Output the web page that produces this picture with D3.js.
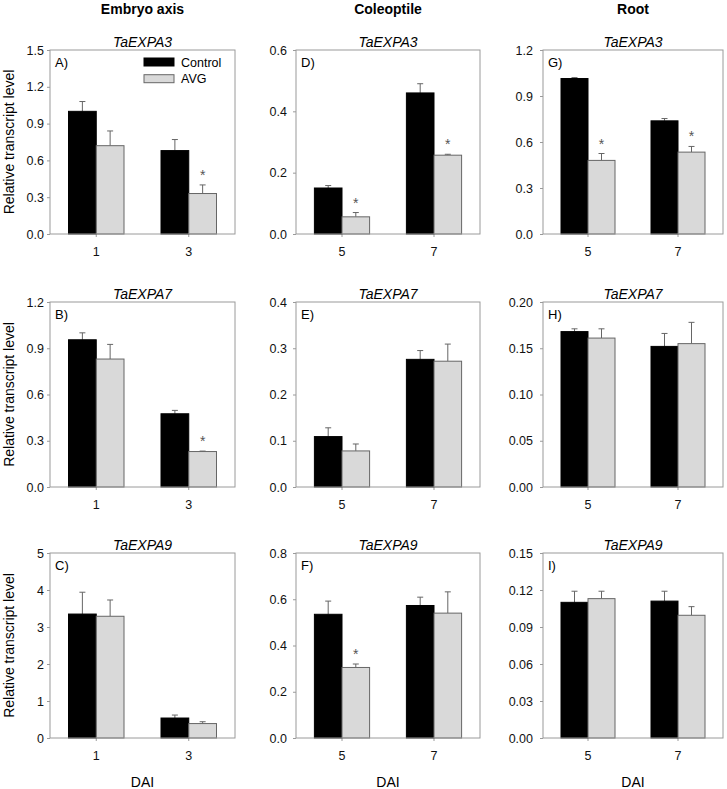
<!DOCTYPE html>
<html>
<head>
<meta charset="utf-8">
<script src="https://cdn.jsdelivr.net/npm/d3@7"></script>
<style>
  body { margin: 0; background: #fff; }
  svg { display: block; font-family: "Liberation Sans", Arial, sans-serif; }
</style>
</head>
<body>
<svg id="chart" width="727" height="789"></svg>
<script>
// ---- data (panels ordered A..I, column-major) ----
const tissues = ["Embryo axis", "Coleoptile", "Root"];
const genes = ["TaEXPA3", "TaEXPA7", "TaEXPA9"];
const panelLabels = ["A)", "B)", "C)", "D)", "E)", "F)", "G)", "H)", "I)"];
const dayCategories = [["1", "3"], ["5", "7"], ["5", "7"]];
const seriesNames = ["Control", "AVG"];
const yMaxes = [1.5, 1.2, 5, 0.6, 0.4, 0.8, 1.2, 0.20, 0.15];
const yTickLabels = [
  ["0.0", "0.3", "0.6", "0.9", "1.2", "1.5"],
  ["0.0", "0.3", "0.6", "0.9", "1.2"],
  ["0", "1", "2", "3", "4", "5"],
  ["0.0", "0.2", "0.4", "0.6"],
  ["0.0", "0.1", "0.2", "0.3", "0.4"],
  ["0.0", "0.2", "0.4", "0.6", "0.8"],
  ["0.0", "0.3", "0.6", "0.9", "1.2"],
  ["0.00", "0.05", "0.10", "0.15", "0.20"],
  ["0.00", "0.03", "0.06", "0.09", "0.12", "0.15"]
];
const controlMeans = [
  [1.00, 0.68], [0.955, 0.475], [3.35, 0.54],
  [0.150, 0.460], [0.109, 0.276], [0.535, 0.573],
  [1.014, 0.738], [0.168, 0.152], [0.110, 0.111]
];
const controlErrors = [
  [0.08, 0.09], [0.045, 0.022], [0.59, 0.08],
  [0.008, 0.030], [0.019, 0.019], [0.057, 0.036],
  [0.006, 0.015], [0.003, 0.014], [0.009, 0.008]
];
const avgMeans = [
  [0.72, 0.33], [0.83, 0.23], [3.29, 0.39],
  [0.056, 0.257], [0.078, 0.272], [0.305, 0.540],
  [0.480, 0.534], [0.161, 0.155], [0.113, 0.0995]
];
const avgErrors = [
  [0.12, 0.07], [0.095, 0.003], [0.44, 0.05],
  [0.014, 0.003], [0.015, 0.037], [0.015, 0.092],
  [0.045, 0.037], [0.010, 0.023], [0.006, 0.007]
];
const avgSignificant = [
  [false, true], [false, true], [false, false],
  [true, true], [false, false], [true, false],
  [true, true], [false, false], [false, false]
];

// ---- layout ----
const colLeft = [50, 296, 543];
const colWidth = [185, 184, 180];
const rowTop = [50, 302, 553];
const rowHeight = [184, 185, 185];
const yTickPad = [3, 6, 7];

const svg = d3.select("#chart");
const frameColor = "#9a9a9a";

// column headers
tissues.forEach((t, c) => {
  svg.append("text")
    .attr("x", colLeft[c] + colWidth[c] / 2)
    .attr("y", 13.5)
    .attr("text-anchor", "middle")
    .attr("font-weight", "bold")
    .attr("font-size", 14)
    .text(t);
});

for (let c = 0; c < 3; c++) {
  for (let r = 0; r < 3; r++) {
    const p = c * 3 + r;
    const W = colWidth[c], H = rowHeight[r];
    const g = svg.append("g").attr("transform", `translate(${colLeft[c]},${rowTop[r]})`);

    const x = d3.scaleBand().domain(dayCategories[c]).range([0, W]).padding(0);
    const xs = d3.scaleBand().domain(seriesNames).range([-0.15 * W, 0.15 * W]).padding(0);
    const y = d3.scaleLinear().domain([0, yMaxes[p]]).range([H, 0]);

    const tickVals = yTickLabels[p].map(Number);

    // axes
    const yAxis = d3.axisLeft(y).tickValues(tickVals)
      .tickFormat((d, i) => yTickLabels[p][i]).tickSize(3).tickPadding(yTickPad[c]);
    const ya = g.append("g").call(yAxis);
    ya.select(".domain").remove();
    ya.selectAll("line").attr("stroke", frameColor);
    ya.selectAll("text").attr("font-size", 12.5).attr("fill", "#111")
      .attr("font-family", "Liberation Sans, Arial, sans-serif");

    const xAxis = d3.axisBottom(x).tickSize(3).tickPadding(10);
    const xa = g.append("g").attr("transform", `translate(0,${H})`).call(xAxis);
    xa.select(".domain").remove();
    xa.selectAll("line").attr("stroke", frameColor);
    xa.selectAll("text").attr("font-size", 12.5).attr("fill", "#111")
      .attr("font-family", "Liberation Sans, Arial, sans-serif");

    // bars
    const rows = dayCategories[c].map((d, i) => ([
      { day: d, s: "Control", v: controlMeans[p][i], e: controlErrors[p][i], sig: false },
      { day: d, s: "AVG", v: avgMeans[p][i], e: avgErrors[p][i], sig: avgSignificant[p][i] }
    ])).flat();

    const cx = d => x(d.day) + x.bandwidth() / 2 + xs(d.s);

    // error bars (upper only)
    const eb = g.append("g");
    rows.forEach(d => {
      const mx = cx(d) + xs.bandwidth() / 2;
      eb.append("line").attr("x1", mx).attr("x2", mx)
        .attr("y1", y(d.v)).attr("y2", y(d.v + d.e))
        .attr("stroke", "#666").attr("stroke-width", 1);
      eb.append("line").attr("x1", mx - 3).attr("x2", mx + 3)
        .attr("y1", y(d.v + d.e)).attr("y2", y(d.v + d.e))
        .attr("stroke", "#666").attr("stroke-width", 1);
    });

    g.selectAll("rect.bar").data(rows).join("rect")
      .attr("class", "bar")
      .attr("x", cx)
      .attr("width", xs.bandwidth())
      .attr("y", d => y(d.v))
      .attr("height", d => H - y(d.v))
      .attr("fill", d => d.s === "Control" ? "#000" : "#d9d9d9")
      .attr("stroke", d => d.s === "Control" ? "#000" : "#666")
      .attr("stroke-width", 1);

    // significance stars
    rows.filter(d => d.sig).forEach(d => {
      g.append("text")
        .attr("x", cx(d) + xs.bandwidth() / 2)
        .attr("y", y(d.v + d.e) - 5)
        .attr("text-anchor", "middle")
        .attr("font-size", 14)
        .attr("fill", "#555")
        .text("*");
    });

    // frame
    g.append("rect").attr("x", 0).attr("y", 0).attr("width", W).attr("height", H)
      .attr("fill", "none").attr("stroke", frameColor).attr("stroke-width", 1);

    // gene title
    g.append("text").attr("x", W / 2).attr("y", -3.5)
      .attr("text-anchor", "middle").attr("font-style", "italic").attr("font-size", 14)
      .text(genes[r]);

    // panel label
    g.append("text").attr("x", 5).attr("y", 16.5).attr("font-size", 13).text(panelLabels[p]);

    // y label (left column)
    if (c === 0) {
      svg.append("text")
        .attr("transform", `translate(13.5,${rowTop[r] + H / 2}) rotate(-90)`)
        .attr("text-anchor", "middle").attr("font-size", 14)
        .text("Relative transcript level");
    }
    // DAI (bottom row)
    if (r === 2) {
      svg.append("text").attr("x", colLeft[c] + W / 2).attr("y", 786.5)
        .attr("text-anchor", "middle").attr("font-size", 14).text("DAI");
    }
    // legend in panel A
    if (p === 0) {
      const lg = g.append("g").attr("transform", "translate(94,8)");
      seriesNames.forEach((s, i) => {
        lg.append("rect").attr("x", 0).attr("y", i * 16.7).attr("width", 30).attr("height", 8)
          .attr("fill", i === 0 ? "#000" : "#d9d9d9")
          .attr("stroke", i === 0 ? "#000" : "#666");
        lg.append("text").attr("x", 37).attr("y", i * 16.7 + 8.5).attr("font-size", 12.5).text(s);
      });
    }
  }
}
</script>
</body>
</html>
